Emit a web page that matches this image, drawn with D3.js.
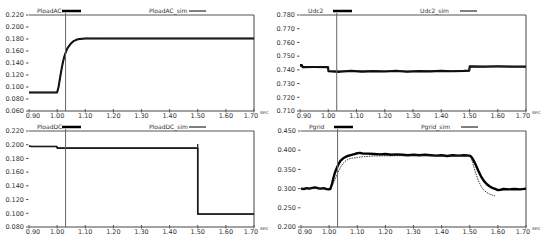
<!DOCTYPE html>
<html>
<head>
<meta charset="utf-8">
<script src="https://cdn.jsdelivr.net/npm/d3@7"></script>
<style>
  body { margin: 0; background: #fff; }
  text { font-family: "DejaVu Sans", Verdana, sans-serif; fill: #333; }
</style>
</head>
<body>
<script>
var W = 550, H = 240;

// shared time axis
var timeTicks = [0.90, 1.00, 1.10, 1.20, 1.30, 1.40, 1.50, 1.60, 1.70];
var cursorT = 1.03;

// PloadAC
var acTime = [0.900, 1.000, 1.005, 1.010, 1.015, 1.020, 1.025, 1.030, 1.035, 1.040, 1.050, 1.060, 1.070, 1.080, 1.100, 1.140, 1.700];
var acMeas = [0.091, 0.091, 0.100, 0.114, 0.128, 0.140, 0.150, 0.157, 0.163, 0.167, 0.173, 0.177, 0.179, 0.180, 0.181, 0.181, 0.181];
var acSim  = [0.091, 0.091, 0.099, 0.113, 0.127, 0.139, 0.149, 0.156, 0.162, 0.167, 0.173, 0.177, 0.179, 0.180, 0.181, 0.181, 0.181];
var acTicks = [0.060, 0.080, 0.100, 0.120, 0.140, 0.160, 0.180, 0.200, 0.220];

// Udc2
var udcTime = [0.900, 0.906, 0.910, 0.950, 0.999, 1.001, 1.040, 1.080, 1.120, 1.160, 1.200, 1.240, 1.280, 1.320, 1.360, 1.400, 1.440, 1.480, 1.499, 1.501, 1.550, 1.600, 1.650, 1.700];
var udcMeas = [0.7435, 0.7435, 0.7420, 0.7421, 0.7420, 0.7390, 0.7386, 0.7392, 0.7387, 0.7391, 0.7388, 0.7392, 0.7386, 0.7391, 0.7389, 0.7393, 0.7390, 0.7392, 0.7395, 0.7425, 0.7424, 0.7425, 0.7424, 0.7424];
var udcSim  = [0.7425, 0.7425, 0.7421, 0.7421, 0.7421, 0.7392, 0.7392, 0.7392, 0.7392, 0.7392, 0.7392, 0.7392, 0.7392, 0.7392, 0.7392, 0.7392, 0.7392, 0.7392, 0.7392, 0.7424, 0.7424, 0.7424, 0.7424, 0.7424];
var udcTicks = [0.710, 0.720, 0.730, 0.740, 0.750, 0.760, 0.770, 0.780];

// PloadDC
var dcTime = [0.900, 0.910, 0.999, 1.001, 1.499, 1.500, 1.500, 1.700];
var dcMeas = [0.1980, 0.1975, 0.1975, 0.1950, 0.1950, 0.1950, 0.0990, 0.0990];
var dcSim  = [0.1975, 0.1975, 0.1975, 0.1945, 0.1945, 0.2010, 0.0985, 0.0985];
var dcTicks = [0.080, 0.100, 0.120, 0.140, 0.160, 0.180, 0.200, 0.220];

// Pgrid
var pgTime = [0.90, 0.91, 0.92, 0.93, 0.94, 0.95, 0.96, 0.97, 0.98, 0.99, 1.00, 1.005, 1.01, 1.015, 1.02, 1.025, 1.03, 1.035, 1.04, 1.05, 1.06, 1.07, 1.08, 1.09, 1.10, 1.11, 1.12, 1.14, 1.16, 1.18, 1.20, 1.22, 1.24, 1.26, 1.28, 1.30, 1.32, 1.34, 1.36, 1.38, 1.40, 1.42, 1.44, 1.46, 1.48, 1.50, 1.505, 1.51, 1.515, 1.52, 1.53, 1.54, 1.55, 1.56, 1.57, 1.58, 1.59, 1.60, 1.61, 1.62, 1.64, 1.66, 1.68, 1.70];
var pgMeas = [0.300, 0.299, 0.301, 0.300, 0.302, 0.303, 0.301, 0.300, 0.301, 0.299, 0.298, 0.300, 0.312, 0.327, 0.340, 0.350, 0.358, 0.366, 0.372, 0.379, 0.383, 0.386, 0.388, 0.390, 0.392, 0.393, 0.391, 0.391, 0.390, 0.389, 0.390, 0.388, 0.389, 0.388, 0.387, 0.388, 0.387, 0.388, 0.387, 0.386, 0.387, 0.385, 0.387, 0.386, 0.387, 0.386, 0.383, 0.378, 0.371, 0.364, 0.347, 0.332, 0.320, 0.312, 0.306, 0.302, 0.299, 0.296, 0.297, 0.299, 0.298, 0.299, 0.298, 0.300];
var pgSimTime = [0.90, 1.00, 1.01, 1.02, 1.03, 1.04, 1.05, 1.06, 1.07, 1.08, 1.10, 1.12, 1.16, 1.30, 1.50, 1.505, 1.51, 1.515, 1.52, 1.53, 1.54, 1.55, 1.56, 1.57, 1.58, 1.59];
var pgSim     = [0.300, 0.300, 0.305, 0.322, 0.340, 0.355, 0.366, 0.373, 0.377, 0.379, 0.381, 0.383, 0.385, 0.386, 0.386, 0.380, 0.368, 0.355, 0.343, 0.322, 0.306, 0.296, 0.290, 0.286, 0.283, 0.281];
var pgTicks = [0.200, 0.250, 0.300, 0.350, 0.400, 0.450];

var panels = [
  { x0: 29,  x1: 254, y0: 15,  y1: 111, dom: [0.06, 0.22], ticks: acTicks,
    name: "PloadAC", simName: "PloadAC_sim", time: acTime, meas: acMeas, simTime: acTime, sim: acSim, w: 2 },
  { x0: 300, x1: 526, y0: 15,  y1: 111, dom: [0.71, 0.78], ticks: udcTicks,
    name: "Udc2", simName: "Udc2_sim", time: udcTime, meas: udcMeas, simTime: udcTime, sim: udcSim, w: 2.2 },
  { x0: 29,  x1: 254, y0: 131, y1: 227, dom: [0.08, 0.22], ticks: dcTicks,
    name: "PloadDC", simName: "PloadDC_sim", time: dcTime, meas: dcMeas, simTime: dcTime, sim: dcSim, w: 1.6 },
  { x0: 301, x1: 526, y0: 131, y1: 227, dom: [0.20, 0.45], ticks: pgTicks,
    name: "Pgrid", simName: "Pgrid_sim", time: pgTime, meas: pgMeas, simTime: pgSimTime, sim: pgSim, w: 2.4, dotted: true }
];

var svg = d3.select("body").append("svg")
  .attr("width", W)
  .attr("height", H)
  .style("background", "white");

panels.forEach(function(p) {
  var x = d3.scaleLinear().domain([0.9, 1.7]).range([p.x0, p.x1]);
  var y = d3.scaleLinear().domain(p.dom).range([p.y1, p.y0]);
  var g = svg.append("g");

  // frame: top and right border, bottom axis
  g.append("line").attr("x1", p.x0).attr("x2", p.x1).attr("y1", p.y0).attr("y2", p.y0)
    .attr("stroke", "#555").attr("stroke-width", 1);
  g.append("line").attr("x1", p.x1).attr("x2", p.x1).attr("y1", p.y0).attr("y2", p.y1)
    .attr("stroke", "#444").attr("stroke-width", 1);
  g.append("line").attr("x1", p.x0).attr("x2", p.x1).attr("y1", p.y1).attr("y2", p.y1)
    .attr("stroke", "#444").attr("stroke-width", 1);

  // y ticks
  var yt = g.selectAll(".yt").data(p.ticks).enter().append("g")
    .attr("transform", function(d) { return "translate(0," + y(d) + ")"; });
  yt.append("line").attr("x1", p.x0 - 3).attr("x2", p.x0 - 0.5)
    .attr("stroke", "#555").attr("stroke-width", 1);
  yt.append("text").attr("x", p.x0 - 5).attr("dy", "0.35em")
    .attr("text-anchor", "end").style("font-size", "6.5px")
    .text(function(d) { return d3.format(".3f")(d); });

  // x ticks
  var last = timeTicks.length - 1;
  var xt = g.selectAll(".xt").data(timeTicks).enter().append("g")
    .attr("transform", function(d) { return "translate(" + x(d) + "," + p.y1 + ")"; });
  xt.append("line").attr("y1", -2).attr("y2", 1.5)
    .attr("stroke", "#555").attr("stroke-width", 1);
  xt.append("text").attr("y", 7)
    .attr("dx", function(d, i) { return i === 0 ? 4 : (i === last ? -3 : 0); })
    .attr("text-anchor", "middle").style("font-size", "6.5px")
    .text(function(d) { return d3.format(".2f")(d); });
  g.append("text").attr("x", p.x1 + 6).attr("y", p.y1 + 3)
    .style("font-size", "5px").text("sec");

  // series
  var line = d3.line()
    .x(function(d) { return x(d[0]); })
    .y(function(d) { return y(d[1]); });
  var simPts = p.simTime.map(function(t, i) { return [t, p.sim[i]]; });
  var measPts = p.time.map(function(t, i) { return [t, p.meas[i]]; });

  g.append("path").datum(measPts).attr("d", line)
    .attr("fill", "none").attr("stroke", "#000").attr("stroke-width", p.w)
    .attr("stroke-linejoin", "round");
  g.append("path").datum(simPts).attr("d", line)
    .attr("fill", "none").attr("stroke", "#222").attr("stroke-width", 0.9)
    .attr("stroke-dasharray", p.dotted ? "1.5,1" : null);

  // cursor
  g.append("line").attr("x1", x(cursorT)).attr("x2", x(cursorT))
    .attr("y1", p.y0 - 2).attr("y2", p.y1)
    .attr("stroke", "#666").attr("stroke-width", 1);

  // legend
  var ly = p.y0 - 4;
  g.append("text").attr("x", p.x0 + 8).attr("y", ly + 2)
    .style("font-size", "6px").text(p.name);
  g.append("line").attr("x1", p.x0 + 33).attr("x2", p.x0 + 52).attr("y1", ly).attr("y2", ly)
    .attr("stroke", "#000").attr("stroke-width", 2.5);
  g.append("text").attr("x", p.x0 + 120).attr("y", ly + 2)
    .style("font-size", "6px").text(p.simName);
  g.append("line").attr("x1", p.x0 + 160).attr("x2", p.x0 + 177).attr("y1", ly).attr("y2", ly)
    .attr("stroke", "#000").attr("stroke-width", 1);
});
</script>
</body>
</html>
